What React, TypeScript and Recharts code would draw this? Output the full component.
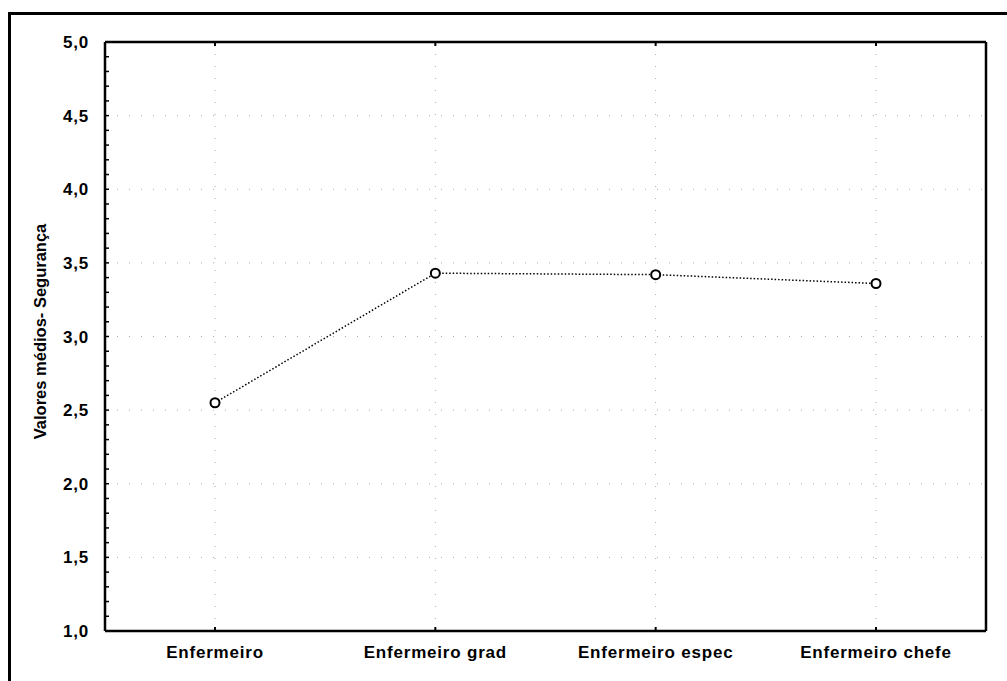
import { LineChart, Line, XAxis, YAxis, CartesianGrid, Label } from 'recharts';

const categories = ['Enfermeiro', 'Enfermeiro grad', 'Enfermeiro espec', 'Enfermeiro chefe'];
const seguranca = [2.55, 3.43, 3.42, 3.36];
const majorTicks = [1.0, 1.5, 2.0, 2.5, 3.0, 3.5, 4.0, 4.5, 5.0];
const minorTicks = [
  1.0, 1.1, 1.2, 1.3, 1.4, 1.5, 1.6, 1.7, 1.8, 1.9,
  2.0, 2.1, 2.2, 2.3, 2.4, 2.5, 2.6, 2.7, 2.8, 2.9,
  3.0, 3.1, 3.2, 3.3, 3.4, 3.5, 3.6, 3.7, 3.8, 3.9,
  4.0, 4.1, 4.2, 4.3, 4.4, 4.5, 4.6, 4.7, 4.8, 4.9, 5.0,
];

const data = categories.map((name, i) => ({ name, value: seguranca[i] }));

const font = '"Liberation Sans", Arial, sans-serif';
const tickStyle = { fontFamily: font, fontSize: 17, fontWeight: 700, fill: '#000', letterSpacing: 0.8 };

function isMajor(v: number) {
  return majorTicks.some((m) => Math.abs(m - v) < 1e-6);
}

export default function App() {
  return (
    <div style={{ position: 'absolute', left: 0, top: 0, width: 1007, height: 681, overflow: 'hidden', background: '#fff' }}>
      <div
        style={{
          position: 'absolute',
          left: 8,
          top: 12,
          width: 1100,
          height: 800,
          borderLeft: '3px solid #000',
          borderTop: '3px solid #000',
        }}
      />
      <div style={{ position: 'absolute', left: 0, top: 0 }}>
        <LineChart width={1007} height={681} data={data} margin={{ top: 41, right: 20, left: 0, bottom: 0 }}>
          <CartesianGrid
            stroke="#a8a8a8"
            strokeDasharray="1 11"
            strokeWidth={1}
            horizontalValues={majorTicks}
          />
          <XAxis
            dataKey="name"
            type="category"
            padding={{ left: 110, right: 110 }}
            height={50}
            tickSize={-4}
            tickMargin={19}
            tick={tickStyle}
            axisLine={{ stroke: '#000', strokeWidth: 2.5 }}
            tickLine={{ stroke: '#000', strokeWidth: 2 }}
            interval={0}
          />
          <XAxis
            xAxisId="top"
            orientation="top"
            dataKey="name"
            type="category"
            padding={{ left: 110, right: 110 }}
            height={1}
            tickSize={-4}
            tickMargin={0}
            tickFormatter={() => ''}
            axisLine={{ stroke: '#000', strokeWidth: 2.5 }}
            tickLine={{ stroke: '#000', strokeWidth: 2 }}
            interval={0}
          />
          <YAxis
            domain={[1, 5]}
            ticks={minorTicks}
            interval={0}
            width={105}
            tickSize={-4}
            tickMargin={20}
            tick={tickStyle}
            tickFormatter={(v: number) => (isMajor(v) ? v.toFixed(1).replace('.', ',') : '')}
            axisLine={{ stroke: '#000', strokeWidth: 2.5 }}
            tickLine={{ stroke: '#000', strokeWidth: 1.5 }}
          >
            <Label
              value="Valores médios- Segurança"
              angle={-90}
              position="insideLeft"
              offset={40}
              dy={-5}
              style={{ textAnchor: 'middle', fontFamily: font, fontSize: 16.5, fontWeight: 700, fill: '#000' }}
            />
          </YAxis>
          <YAxis
            yAxisId="right"
            orientation="right"
            domain={[1, 5]}
            ticks={minorTicks}
            interval={0}
            width={1}
            tickSize={-4}
            tickMargin={0}
            tickFormatter={() => ''}
            axisLine={{ stroke: '#000', strokeWidth: 2.5 }}
            tickLine={{ stroke: '#000', strokeWidth: 1.5 }}
          />
          <Line
            type="linear"
            dataKey="value"
            stroke="#000"
            strokeWidth={1.5}
            strokeDasharray="1.5 2"
            dot={{ r: 4.5, fill: '#fff', stroke: '#000', strokeWidth: 2, strokeDasharray: '' }}
            isAnimationActive={false}
          />
        </LineChart>
      </div>
    </div>
  );
}
